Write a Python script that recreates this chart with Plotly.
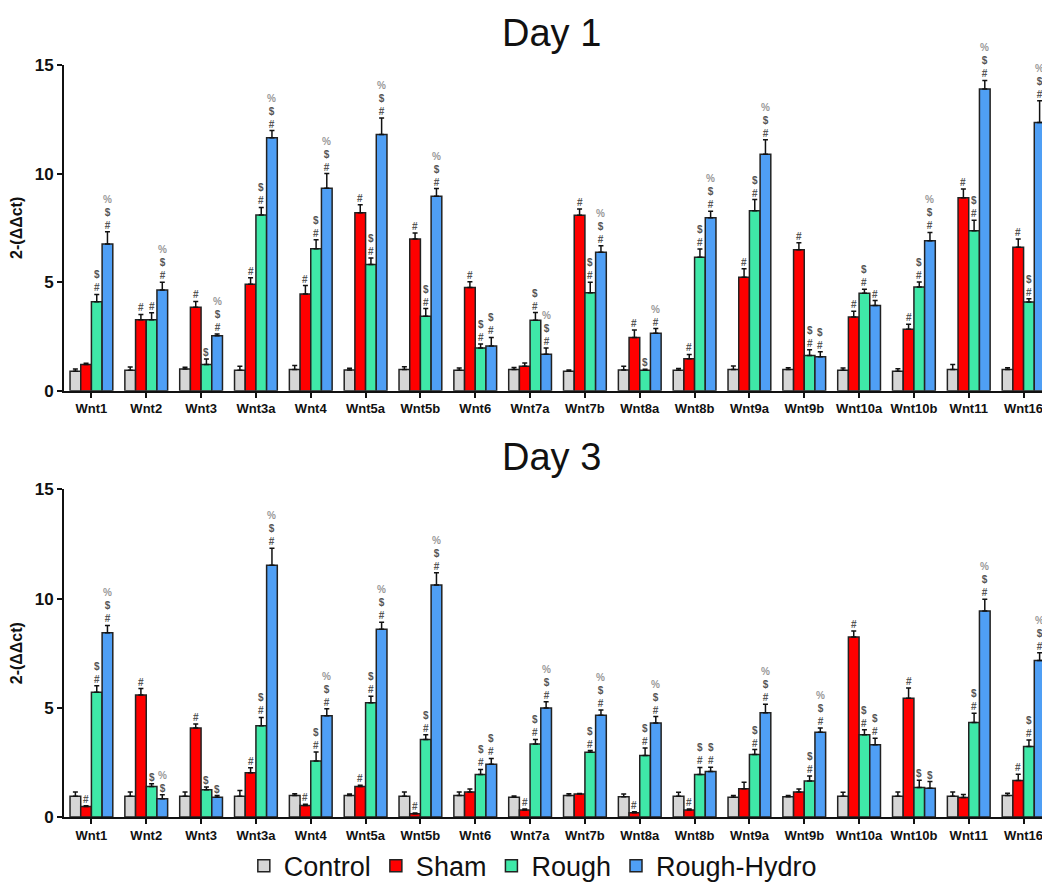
import plotly.graph_objects as go

genes = ["Wnt1", "Wnt2", "Wnt3", "Wnt3a", "Wnt4", "Wnt5a", "Wnt5b", "Wnt6", "Wnt7a",
         "Wnt7b", "Wnt8a", "Wnt8b", "Wnt9a", "Wnt9b", "Wnt10a", "Wnt10b", "Wnt11", "Wnt16"]
groups = ["Control", "Sham", "Rough", "Rough-Hydro"]
colors = ["#d6d6d6", "#ff0000", "#3fe8a8", "#4f9ff5"]

# Day 1 means and SEM
d1_control = [0.90, 0.94, 1.00, 0.94, 0.98, 0.95, 0.98, 0.94, 0.97, 0.89, 0.95, 0.94, 0.98, 0.97, 0.94, 0.89, 0.97, 0.97]
d1_sham    = [1.20, 3.27, 3.84, 4.90, 4.45, 8.20, 6.99, 4.75, 1.13, 8.08, 2.45, 1.47, 5.22, 6.49, 3.39, 2.83, 8.88, 6.60]
d1_rough   = [4.10, 3.27, 1.20, 8.09, 6.54, 5.81, 3.43, 1.97, 3.24, 4.51, 0.94, 6.14, 8.29, 1.62, 4.49, 4.77, 7.37, 4.08]
d1_hydro   = [6.76, 4.64, 2.53, 11.65, 9.32, 11.80, 8.96, 2.06, 1.68, 6.38, 2.65, 7.97, 10.89, 1.56, 3.92, 6.91, 13.90, 12.35]
d1_control_err = [0.10, 0.15, 0.08, 0.18, 0.18, 0.08, 0.12, 0.10, 0.10, 0.06, 0.18, 0.08, 0.16, 0.08, 0.10, 0.12, 0.23, 0.08]
d1_sham_err    = [0.06, 0.24, 0.27, 0.30, 0.39, 0.36, 0.27, 0.27, 0.14, 0.29, 0.35, 0.20, 0.40, 0.32, 0.27, 0.23, 0.41, 0.39]
d1_rough_err   = [0.33, 0.32, 0.26, 0.35, 0.41, 0.30, 0.35, 0.18, 0.36, 0.48, 0.05, 0.39, 0.51, 0.26, 0.18, 0.23, 0.48, 0.15]
d1_hydro_err   = [0.56, 0.35, 0.08, 0.33, 0.68, 0.76, 0.35, 0.39, 0.29, 0.30, 0.21, 0.29, 0.67, 0.23, 0.23, 0.38, 0.39, 1.00]

# Day 3 means and SEM
d3_control = [0.95, 0.95, 0.95, 0.95, 0.99, 0.99, 0.95, 0.99, 0.90, 0.99, 0.93, 0.95, 0.90, 0.93, 0.95, 0.95, 0.95, 0.99]
d3_sham    = [0.48, 5.59, 4.08, 2.03, 0.53, 1.40, 0.15, 1.14, 0.32, 1.05, 0.20, 0.32, 1.29, 1.14, 8.24, 5.44, 0.89, 1.67]
d3_rough   = [5.71, 1.40, 1.25, 4.18, 2.56, 5.23, 3.55, 1.95, 3.34, 2.96, 2.81, 1.95, 2.86, 1.65, 3.76, 1.35, 4.33, 3.23]
d3_hydro   = [8.44, 0.84, 0.90, 11.52, 4.63, 8.59, 10.62, 2.41, 4.99, 4.66, 4.30, 2.08, 4.77, 3.88, 3.31, 1.32, 9.43, 7.16]
d3_control_err = [0.20, 0.20, 0.20, 0.26, 0.08, 0.06, 0.20, 0.15, 0.06, 0.08, 0.12, 0.18, 0.08, 0.05, 0.18, 0.20, 0.20, 0.10]
d3_sham_err    = [0.04, 0.29, 0.18, 0.23, 0.05, 0.05, 0.03, 0.14, 0.05, 0.03, 0.04, 0.05, 0.30, 0.14, 0.27, 0.47, 0.14, 0.29]
d3_rough_err   = [0.30, 0.12, 0.12, 0.38, 0.42, 0.30, 0.21, 0.23, 0.21, 0.08, 0.35, 0.32, 0.23, 0.23, 0.24, 0.33, 0.42, 0.30]
d3_hydro_err   = [0.33, 0.18, 0.08, 0.78, 0.33, 0.33, 0.56, 0.27, 0.29, 0.24, 0.30, 0.20, 0.39, 0.20, 0.30, 0.30, 0.54, 0.36]

# Significance marks (bottom to top) per gene for Sham, Rough, Rough-Hydro
d1_sham_sig  = ["", "#", "#", "#", "#", "#", "#", "#", "", "#", "#", "#", "#", "#", "#", "#", "#", "#"]
d1_rough_sig = ["#$", "#", "$", "#$", "#$", "#$", "#$", "#$", "#$", "#$", "$", "#$", "#$", "#$", "#$", "#$", "#$", "#$"]
d1_hydro_sig = ["#$%", "#$%", "#$%", "#$%", "#$%", "#$%", "#$%", "#$", "#$%", "#$%", "#%", "#$%", "#$%", "#$", "#", "#$%", "#$%", "#$%"]
d3_sham_sig  = ["#", "#", "#", "#", "#", "#", "#", "", "#", "", "#", "#", "", "", "#", "#", "", "#"]
d3_rough_sig = ["#$", "$", "$", "#$", "#$", "#$", "#$", "#$", "#$", "#$", "#$", "#$", "#$", "#$", "#$", "$", "#$", "#$"]
d3_hydro_sig = ["#$%", "$%", "$", "#$%", "#$%", "#$%", "#$%", "#$", "#$%", "#$%", "#$%", "#$", "#$%", "#$%", "#$", "$", "#$%", "#$%"]

days = [
    dict(name="Day 1", vals=[d1_control, d1_sham, d1_rough, d1_hydro],
         errs=[d1_control_err, d1_sham_err, d1_rough_err, d1_hydro_err],
         sigs=[None, d1_sham_sig, d1_rough_sig, d1_hydro_sig]),
    dict(name="Day 3", vals=[d3_control, d3_sham, d3_rough, d3_hydro],
         errs=[d3_control_err, d3_sham_err, d3_rough_err, d3_hydro_err],
         sigs=[None, d3_sham_sig, d3_rough_sig, d3_hydro_sig]),
]

FONT = "Liberation Sans, Arial, sans-serif"
W, H = 1050, 890
mar_l, mar_r, mar_t, mar_b = 48, 7, 57, 71
ph = H - mar_t - mar_b
def fy(pix):
    return (H - mar_b - pix) / ph

domains = [[fy(387), 1.0], [0.0, fy(487)]]
bargap = 0.22
n = len(groups)
bw = (1 - bargap) / n

fig = go.Figure()
annotations = []
sym_color = {"#": "#555555", "$": "#555555", "%": "#999999"}

for d_i, day in enumerate(days):
    xa = "x" if d_i == 0 else "x2"
    ya = "y" if d_i == 0 else "y2"
    for g_i, g in enumerate(groups):
        fig.add_trace(go.Bar(
            x=genes, y=day["vals"][g_i], name=g, xaxis=xa, yaxis=ya,
            marker=dict(color=colors[g_i], line=dict(color="#222222", width=1.5)),
            error_y=dict(type="data", array=day["errs"][g_i], arrayminus=[0] * len(genes),
                         symmetric=False, color="#111111", thickness=1.5, width=2.5),
            showlegend=(d_i == 0), legendgroup=g,
        ))
        sig = day["sigs"][g_i]
        if sig is None:
            continue
        off = -(1 - bargap) / 2 + (g_i + 0.5) * bw
        for k, s in enumerate(sig):
            if not s:
                continue
            top = day["vals"][g_i][k] + day["errs"][g_i][k]
            lines = ["<span style='color:%s'>%s</span>" % (sym_color[ch], ch) for ch in reversed(s)]
            annotations.append(dict(
                x=k + off, y=top, xref=xa, yref=ya, text="<br>".join(lines), showarrow=False,
                yanchor="bottom", xanchor="center", yshift=0, borderpad=0,
                font=dict(size=10, color="#555555", family=FONT, weight="bold"),
            ))
    annotations.append(dict(
        x=0.494, xref="paper", y=domains[d_i][1], yref="paper", yshift=32, borderpad=0,
        text=day["name"], showarrow=False, yanchor="middle", xanchor="center",
        font=dict(size=38, color="#111111", family=FONT),
    ))

axis_common = dict(showline=True, linecolor="#111111", linewidth=2, ticks="outside",
                   tickcolor="#111111", ticklen=5, tickwidth=1.5, showgrid=False, zeroline=False)
xtick = dict(size=13, family=FONT, color="#111111", weight="bold")
ytick = dict(size=17, family=FONT, color="#111111", weight="bold")
ytitle = dict(text="2-(ΔΔct)", font=dict(size=16, family=FONT, color="#111111", weight="bold"), standoff=8)

fig.update_layout(
    width=W, height=H, barmode="group", bargap=bargap, bargroupgap=0,
    plot_bgcolor="white", paper_bgcolor="white",
    margin=dict(l=mar_l, r=mar_r, t=mar_t, b=mar_b),
    font=dict(family=FONT, color="#111111"),
    xaxis=dict(domain=[0, 1], anchor="y", type="category", range=[-0.5, 17.5],
               tickfont=xtick, **axis_common),
    yaxis=dict(domain=domains[0], anchor="x", range=[0, 15], tickvals=[0, 5, 10, 15],
               tickfont=ytick, title=ytitle, **axis_common),
    xaxis2=dict(domain=[0, 1], anchor="y2", type="category", range=[-0.5, 17.5],
                tickfont=xtick, **axis_common),
    yaxis2=dict(domain=domains[1], anchor="x2", range=[0, 15], tickvals=[0, 5, 10, 15],
                tickfont=ytick, title=ytitle, **axis_common),
    legend=dict(orientation="h", x=0.475, xanchor="center", y=-0.033, yanchor="top",
                font=dict(size=27, family=FONT), traceorder="normal", itemwidth=30),
    annotations=annotations,
)

fig.write_html("out.html")
